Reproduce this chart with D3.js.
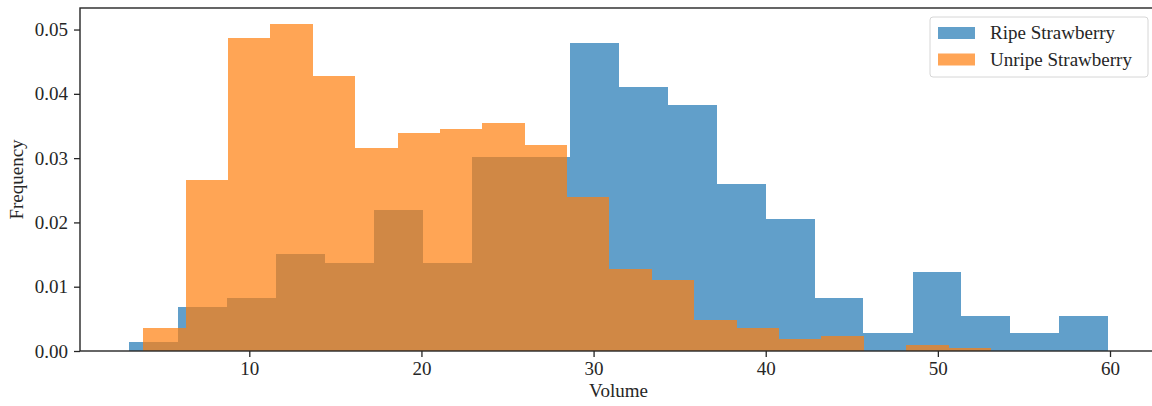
<!DOCTYPE html>
<html>
<head>
<meta charset="utf-8">
<script src="https://cdn.jsdelivr.net/npm/d3@7"></script>
<style>
  body { margin: 0; background: #fff; }
  svg text { font-family: "Liberation Serif", "Times New Roman", serif; fill: #262626; }
</style>
</head>
<body>
<svg id="chart"></svg>
<script>
const width = 1152;
const height = 406;

// bin edges (20 bins each)
const ripeEdges = [3.03, 5.87, 8.72, 11.56, 14.40, 17.25, 20.09, 22.93, 25.78, 28.62, 31.47,
    34.31, 37.15, 40.00, 42.84, 45.68, 48.53, 51.37, 54.21, 57.06, 59.90];
const ripeValues = [0.00137, 0.00684, 0.00821, 0.01505, 0.01368, 0.02189, 0.01368, 0.0301, 0.0301, 0.04788,
    0.04104, 0.0383, 0.0260, 0.02052, 0.00821, 0.00274, 0.01231, 0.00547, 0.00274, 0.00547];

const unripeEdges = [3.84, 6.30, 8.76, 11.23, 13.69, 16.15, 18.61, 21.07, 23.54, 26.00, 28.46,
    30.92, 33.38, 35.85, 38.31, 40.77, 43.23, 45.69, 48.16, 50.62, 53.08];
const unripeValues = [0.0036, 0.0266, 0.0487, 0.0508, 0.0427, 0.0315, 0.0339, 0.0346, 0.0355, 0.0321,
    0.0240, 0.0127, 0.0111, 0.0048, 0.0036, 0.0018, 0.0023, 0.0, 0.0009, 0.0004];

const seriesNames = ["Ripe Strawberry", "Unripe Strawberry"];
const seriesColors = ["#1f77b4", "#ff7f0e"];
const yTicks = [0, 0.01, 0.02, 0.03, 0.04, 0.05];
const xTicks = [10, 20, 30, 40, 50, 60];

// right spine sits just past the picture edge, like the reference
const margin = {top: 8, right: -5, bottom: 55, left: 80};

const svg = d3.select("#chart")
    .attr("width", width)
    .attr("height", height);

const x = d3.scaleLinear()
    .domain([0.165, 62.73])
    .range([margin.left, width - margin.right]);

const y = d3.scaleLinear()
    .domain([0, 0.05335])
    .range([height - margin.bottom, margin.top]);

function bins(edges, values) {
    return values.map(function(v, i) { return {x0: edges[i], x1: edges[i + 1], v: v}; });
}

const series = [bins(ripeEdges, ripeValues), bins(unripeEdges, unripeValues)];

series.forEach(function(data, k) {
    svg.append("g")
        .attr("opacity", 0.7)
        .selectAll("rect")
        .data(data)
        .enter().append("rect")
        .attr("x", function(d) { return x(d.x0); })
        .attr("width", function(d) { return x(d.x1) - x(d.x0); })
        .attr("y", function(d) { return y(d.v); })
        .attr("height", function(d) { return y(0) - y(d.v); })
        .attr("fill", seriesColors[k])
        .attr("shape-rendering", "crispEdges");
});

// axes
const yAxis = svg.append("g")
    .attr("transform", "translate(" + margin.left + ",0)")
    .call(d3.axisLeft(y).tickValues(yTicks).tickFormat(d3.format(".2f")).tickSize(6).tickPadding(6));

const xAxis = svg.append("g")
    .attr("transform", "translate(0," + (height - margin.bottom) + ")")
    .call(d3.axisBottom(x).tickValues(xTicks).tickFormat(d3.format("d")).tickSize(6).tickPadding(5));

[yAxis, xAxis].forEach(function(a) {
    a.select(".domain").remove();
    a.selectAll(".tick line").attr("stroke", "#262626").attr("stroke-width", 1.3);
    a.selectAll(".tick text").style("font-size", "19px");
});

// frame
svg.append("rect")
    .attr("x", margin.left)
    .attr("y", margin.top)
    .attr("width", x.range()[1] - margin.left)
    .attr("height", y(0) - margin.top)
    .attr("fill", "none")
    .attr("stroke", "#262626")
    .attr("stroke-width", 1.4);

svg.append("text")
    .attr("x", (x.range()[0] + x.range()[1]) / 2)
    .attr("y", 397)
    .attr("text-anchor", "middle")
    .style("font-size", "19px")
    .text("Volume");

svg.append("text")
    .attr("transform", "translate(23," + ((y.range()[0] + y.range()[1]) / 2) + ") rotate(-90)")
    .attr("text-anchor", "middle")
    .style("font-size", "19px")
    .text("Frequency");

// legend
const legend = svg.append("g").attr("transform", "translate(930,17)");
legend.append("rect")
    .attr("width", 218)
    .attr("height", 60)
    .attr("rx", 3)
    .attr("fill", "#fff")
    .attr("fill-opacity", 0.8)
    .attr("stroke", "#d6d6d6");

const item = legend.selectAll(".item")
    .data(seriesNames)
    .enter().append("g")
    .attr("class", "item")
    .attr("transform", function(d, i) { return "translate(0," + (i * 26.5) + ")"; });

item.append("rect")
    .attr("x", 8)
    .attr("y", 10)
    .attr("width", 37)
    .attr("height", 12)
    .attr("fill", function(d, i) { return seriesColors[i]; })
    .attr("opacity", 0.7);

item.append("text")
    .attr("x", 60)
    .attr("y", 22)
    .style("font-size", "19px")
    .text(function(d) { return d; });
</script>
</body>
</html>
